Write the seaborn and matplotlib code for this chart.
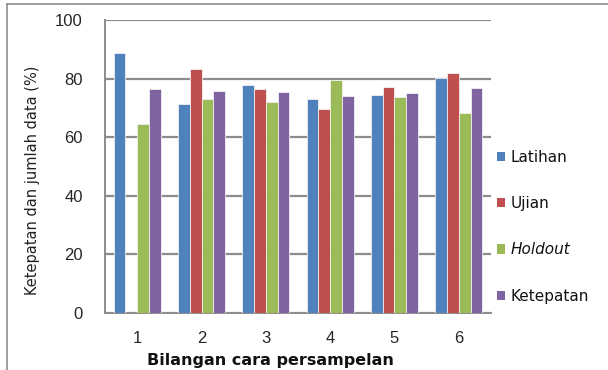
import numpy as np
import pandas as pd
import matplotlib
matplotlib.use("Agg")
import matplotlib.pyplot as plt
import seaborn as sns
from matplotlib.patches import Patch
from matplotlib.lines import Line2D

categories = ["1", "2", "3", "4", "5", "6"]
latihan = [88.8, 71.4, 77.9, 73.0, 74.5, 80.3]
ujian = [0.0, 83.3, 76.6, 69.7, 77.3, 81.8]
holdout = [64.5, 73.0, 72.0, 79.5, 73.7, 68.1]
ketepatan = [76.6, 75.9, 75.5, 74.1, 75.2, 76.7]
series_names = ["Latihan", "Ujian", "Holdout", "Ketepatan"]
colors = ["#4F81BD", "#C0504D", "#9BBB59", "#8064A2"]
yticks = [0, 20, 40, 60, 80, 100]

rows = []
for name, vals in zip(series_names, [latihan, ujian, holdout, ketepatan]):
    for c, v in zip(categories, vals):
        rows.append({"cat": c, "series": name, "val": v})
df = pd.DataFrame(rows)

sns.set_style("white")
plt.rcParams['font.family'] = ['DejaVu Sans']

fig = plt.figure(figsize=(6.08, 3.70), dpi=100)
W, H = 608, 370
ax = fig.add_axes([105 / W, 1 - 313 / H, (491 - 105) / W, (313 - 20) / H])

sns.barplot(data=df, x="cat", y="val", hue="series", order=categories,
            hue_order=series_names, palette=colors, saturation=1, width=0.73, dodge=True,
            edgecolor="#f0f0f0", linewidth=0.6, ax=ax, legend=False, zorder=3)

ax.set_ylim(0, 100)
ax.set_xlim(-0.5, 5.5)
ax.set_yticks(yticks)
ax.set_yticklabels([str(t) for t in yticks], fontsize=12, family="Liberation Sans")
ax.set_xticks(range(len(categories)))
ax.set_xticklabels(categories, fontsize=12, family="Liberation Sans")
ax.tick_params(axis="y", length=5, width=1.2, color="#8c8c8c", direction="out", pad=11)
ax.tick_params(axis="x", length=0, pad=13)
ax.yaxis.grid(True, color="#8c8c8c", linewidth=1.6, zorder=0)
ax.set_axisbelow(True)
for s in ["top", "right"]:
    ax.spines[s].set_visible(False)
for s in ["left", "bottom"]:
    ax.spines[s].set_color("#8c8c8c")
    ax.spines[s].set_linewidth(1.4)

ax.set_ylabel("Ketepatan dan jumlah data (%)", fontsize=10.5, color="#222222")
ax.yaxis.set_label_coords((40 - 105) / (491 - 105), (313 - 180) / (313 - 20))
ax.set_xlabel("Bilangan cara persampelan", fontsize=11.5, fontweight="bold", color="#111111")
ax.xaxis.set_label_coords((270 - 105) / (491 - 105), -(360 - 313) / (313 - 20))
ax.xaxis.label.set_va("center")

handles = [Patch(facecolor=c, edgecolor="none") for c in colors]
leg = fig.legend(handles, series_names, loc="upper left",
                 bbox_to_anchor=(483 / W, 1 - 136 / H), frameon=False,
                 fontsize=11, handlelength=0.55, handleheight=0.55,
                 handletextpad=0.35, labelspacing=2.05)
for t in leg.get_texts():
    t.set_color("#111111")
    if t.get_text() == "Holdout":
        t.set_fontstyle("italic")

fig.add_artist(Line2D([7 / W, 7 / W], [0, 1 - 4 / H], transform=fig.transFigure,
                      color="#8c8c8c", linewidth=1.2))
fig.add_artist(Line2D([7 / W, 1.01], [1 - 4 / H, 1 - 4 / H], transform=fig.transFigure,
                      color="#8c8c8c", linewidth=1.2))

fig.savefig("out.png", dpi=100)
